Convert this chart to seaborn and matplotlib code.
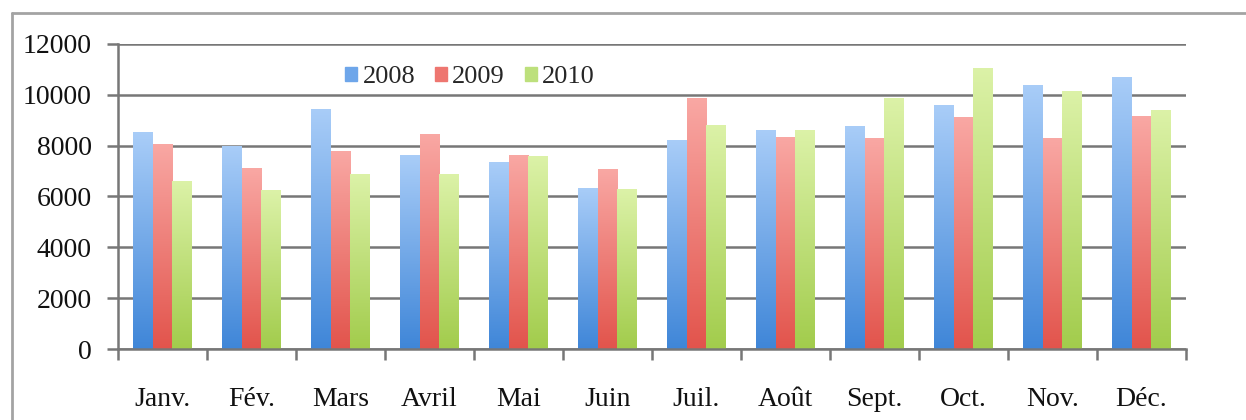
import numpy as np
import pandas as pd
import matplotlib
matplotlib.use("Agg")
import matplotlib.pyplot as plt
import seaborn as sns
from matplotlib.colors import LinearSegmentedColormap
from matplotlib.lines import Line2D

# data
months = ["Janv.", "Fév.", "Mars", "Avril", "Mai", "Juin",
          "Juil.", "Août", "Sept.", "Oct.", "Nov.", "Déc."]
years = ["2008", "2009", "2010"]
v2008 = [8520, 7980, 9450, 7630, 7340, 6350, 8220, 8620, 8780, 9580, 10370, 10690]
v2009 = [8060, 7130, 7800, 8450, 7630, 7090, 9860, 8350, 8290, 9130, 8290, 9160]
v2010 = [6610, 6240, 6880, 6900, 7590, 6280, 8820, 8620, 9870, 11040, 10140, 9390]

# mid colour + (top, bottom) gradient per series
mid_cols = ["#6ea6ea", "#ee7670", "#bde07c"]
grad_cols = [("#a9cdf8", "#3f86d8"), ("#f9a8a4", "#e2544c"), ("#dcf2a8", "#a2cc4c")]

df = pd.DataFrame({
    "Mois": months * 3,
    "Annee": [y for y in years for _ in months],
    "Valeur": v2008 + v2009 + v2010,
})

sns.set_style("white")
plt.rcParams["font.family"] = ["Liberation Serif", "DejaVu Serif"]

fig = plt.figure(figsize=(12.46, 4.2), dpi=100)
ax = fig.add_axes([118 / 1246, 1 - 349.3 / 420, (1186 - 118) / 1246, (349.3 - 43.7) / 420])

sns.barplot(data=df, x="Mois", y="Valeur", hue="Annee", order=months, hue_order=years,
            palette=mid_cols, width=0.67, saturation=1, ax=ax, legend=False, linewidth=0)

# gradient fill on each bar
bars = [p for p in ax.patches if p.get_height() > 0]
for i, p in enumerate(bars):
    k = i // len(months)
    cmap = LinearSegmentedColormap.from_list("g", [grad_cols[k][1], grad_cols[k][0]])
    x0, w, h = p.get_x(), p.get_width(), p.get_height()
    img = ax.imshow(np.linspace(0, 1, 256).reshape(-1, 1), cmap=cmap, origin="lower",
                    extent=[x0, x0 + w, 0, h], aspect="auto", zorder=p.get_zorder() + 0.1)
    img.set_clip_path(p)

ax.set_xlim(-0.5, 11.5)
ax.set_ylim(0, 12000)
ax.set_yticks(np.arange(0, 12001, 2000))
ax.yaxis.grid(True, color="#777777", linewidth=1.8)
ax.set_axisbelow(True)
ax.set_xlabel("")
ax.set_ylabel("")

ax.set_xticks(range(12))
ax.set_xticklabels(months)
ax.set_xticks(np.arange(-0.5, 12, 1), minor=True)
ax.tick_params(axis="x", which="major", length=0, pad=27, labelsize=20, colors="#111111")
ax.tick_params(axis="x", which="minor", length=8, width=1.8, color="#777777", direction="out", bottom=True)
ax.tick_params(axis="y", length=8, width=1.8, color="#777777", direction="out", left=True,
               pad=11, labelsize=20, labelcolor="#111111")

for s in ["top", "right"]:
    ax.spines[s].set_visible(False)
for s in ["left", "bottom"]:
    ax.spines[s].set_color("#777777")
    ax.spines[s].set_linewidth(1.8)

handles = [plt.Rectangle((0, 0), 1, 1, color=c) for c in mid_cols]
ax.legend(handles, years, loc="center", bbox_to_anchor=(470 / 1246, 1 - 77 / 420),
          bbox_transform=fig.transFigure, ncol=3, frameon=False, fontsize=19,
          handlelength=0.45, handleheight=0.45, handletextpad=0.2, columnspacing=0.75)

# outer chart frame
fig.add_artist(Line2D([12 / 1246, 12 / 1246], [0, 1 - 13 / 420], transform=fig.transFigure,
                      color="#a3a3a3", linewidth=2))
fig.add_artist(Line2D([12 / 1246, 1], [1 - 13 / 420, 1 - 13 / 420], transform=fig.transFigure,
                      color="#a3a3a3", linewidth=2))

fig.savefig("out.png", dpi=100)
